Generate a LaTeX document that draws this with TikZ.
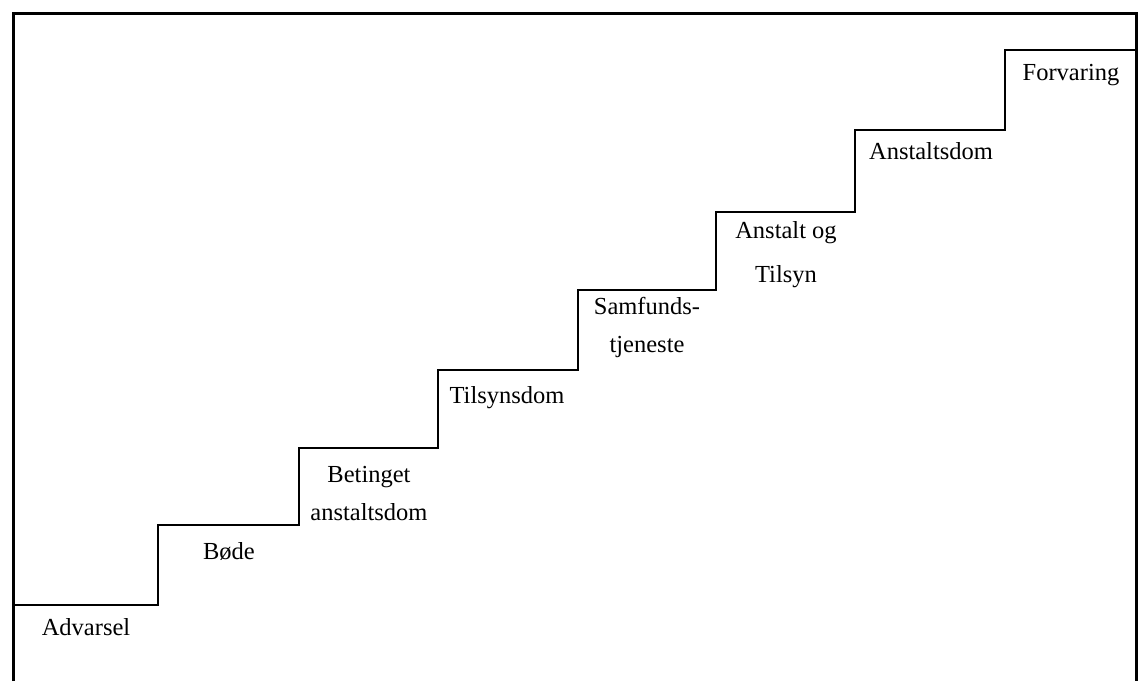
\documentclass[tikz,border=0pt]{standalone}
\usepackage{fontspec}
\setmainfont{Liberation Serif}
\usetikzlibrary{positioning}

\tikzset{
  stair/.style={line width=1.5pt, line join=miter},
  frame/.style={line width=3pt},
  steplabel/.style={anchor=base, align=center, inner sep=0pt,
    font=\fontsize{24.5}{38}\selectfont}
}

\begin{document}
\begin{tikzpicture}[x=1pt, y=-1pt]
  \useasboundingbox (0,0) rectangle (1143,681);

  % Frame (open at the bottom)
  \draw[frame] (13,681) -- (13,13) -- (1136,13) -- (1136,681);

  % Staircase
  \draw[stair] (13,605) -- (158,605) |- (299,525) |- (438,448) |- (578,370)
    |- (716,290) |- (855,212) |- (1005,130) |- (1136,50);

  % Steps (base of a two-line label = its last line)
  \node[steplabel] (advarsel) at (86,635) {Advarsel};
  \node[steplabel] (bode) at (229,559) {Bøde};
  \node[steplabel] (betinget) at (369,520) {Betinget\\anstaltsdom};
  \node[steplabel] (tilsynsdom) at (507,403) {Tilsynsdom};
  \node[steplabel] (samfund) at (647,352) {Samfunds-\\tjeneste};
  \node[steplabel] (anstalttilsyn) at (786,282) {Anstalt og\\[6pt]Tilsyn};
  \node[steplabel] (anstaltsdom) at (931,159) {Anstaltsdom};
  \node[steplabel] (forvaring) at (1071,80) {Forvaring};
\end{tikzpicture}
\end{document}
